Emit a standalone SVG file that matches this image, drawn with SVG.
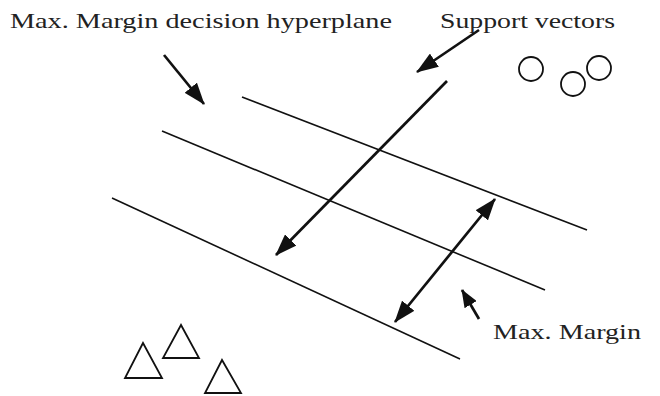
<svg xmlns="http://www.w3.org/2000/svg" width="660" height="396" viewBox="0 0 660 396">
  <style>
    .plane { stroke: #111; stroke-width: 1.6; fill: none; }
    .arrow { stroke: #111; stroke-width: 2.7; fill: none; }
    .shape { stroke: #111; stroke-width: 1.8; fill: none; }
    .label { font-family: "Liberation Serif", "Times New Roman", serif; font-size: 21px; fill: #222; }
  </style>
  <defs>
    <marker id="head" markerUnits="userSpaceOnUse" viewBox="0 0 22 16" markerWidth="22" markerHeight="16" refX="21" refY="8" orient="auto-start-reverse">
      <path d="M0,0 L22,8 L0,16 z" fill="#111"/>
    </marker>
    <marker id="headSmall" markerUnits="userSpaceOnUse" viewBox="0 0 18 14" markerWidth="18" markerHeight="14" refX="17" refY="7" orient="auto">
      <path d="M0,0 L18,7 L0,14 z" fill="#111"/>
    </marker>
  </defs>
  <rect width="660" height="396" fill="#fff"/>

  <g id="hyperplanes">
    <line id="plane-top" class="plane" x1="242" y1="97" x2="587" y2="230"/>
    <line id="plane-middle" class="plane" x1="162" y1="131" x2="545" y2="290"/>
    <line id="plane-bottom" class="plane" x1="112" y1="198" x2="460" y2="359"/>
  </g>

  <g id="connectors">
    <line id="arrow-hyperplane" class="arrow" x1="164" y1="55" x2="204" y2="104" marker-end="url(#head)"/>
    <line id="arrow-support" class="arrow" x1="479" y1="30" x2="417" y2="72" marker-end="url(#head)"/>
    <line id="arrow-cross" class="arrow" x1="447" y1="81" x2="276" y2="255" marker-end="url(#head)"/>
    <line id="arrow-margin" class="arrow" x1="395" y1="322" x2="495" y2="199" marker-start="url(#head)" marker-end="url(#head)"/>
    <line id="arrow-margin-label" class="arrow" x1="479" y1="319" x2="462" y2="290" marker-end="url(#headSmall)"/>
  </g>

  <g id="circles">
    <circle class="shape" cx="531" cy="69" r="12"/>
    <circle class="shape" cx="573" cy="84" r="12"/>
    <circle class="shape" cx="599" cy="68" r="12"/>
  </g>

  <g id="triangles">
    <polygon class="shape" points="143,343 125,378 162,378"/>
    <polygon class="shape" points="181,325 163,358 199,358"/>
    <polygon class="shape" points="222,360 205,393 241,393"/>
  </g>

  <g id="labels">
    <text id="label-hyperplane" class="label" x="10" y="28" textLength="382" lengthAdjust="spacingAndGlyphs">Max. Margin decision hyperplane</text>
    <text id="label-support" class="label" x="440" y="28" textLength="175" lengthAdjust="spacingAndGlyphs">Support vectors</text>
    <text id="label-margin" class="label" x="493" y="339" textLength="148" lengthAdjust="spacingAndGlyphs">Max. Margin</text>
  </g>
</svg>
